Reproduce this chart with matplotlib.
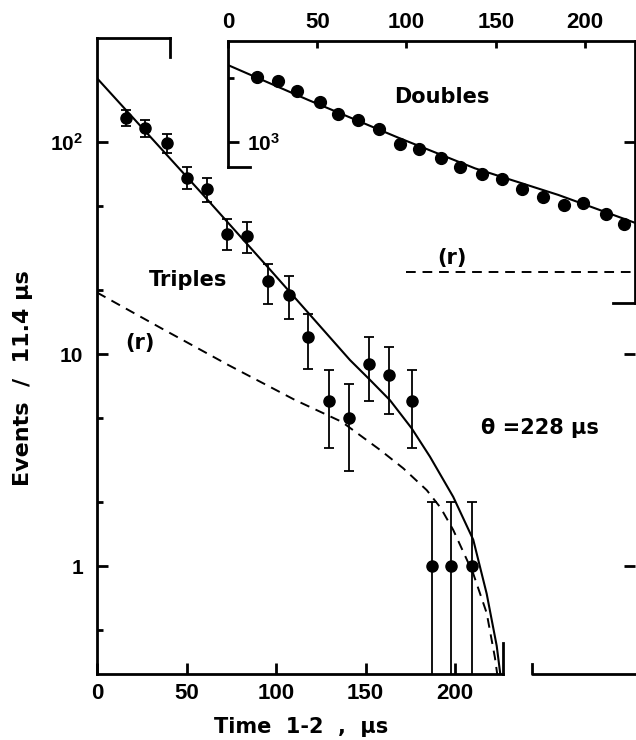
import matplotlib
matplotlib.use('Agg')
import matplotlib.pyplot as plt
import matplotlib.transforms as mtransforms
from matplotlib.ticker import NullFormatter

plt.rcParams['font.family'] = ['DejaVu Sans']
plt.rcParams['font.weight'] = 'bold'
plt.rcParams['mathtext.fontset'] = 'custom'
plt.rcParams['mathtext.rm'] = 'Liberation Sans:bold'
plt.rcParams['mathtext.it'] = 'Liberation Sans:bold:italic'
plt.rcParams['mathtext.bf'] = 'Liberation Sans:bold'

# Triples: events per 11.4 us bin, with Poisson errors
t_trip = [16, 27, 39, 50, 61.5, 72.5, 84, 95.5, 107, 118, 129.5, 141, 152, 163, 176, 187, 198, 209.5]
n_trip = [130, 116, 99, 68, 60, 37, 36, 22, 19, 12, 6, 5, 9, 8, 6, 1, 1, 1]
err_trip = [11.4, 10.8, 9.9, 8.2, 7.7, 6.1, 6.0, 4.7, 4.4, 3.5, 2.4, 2.2, 3.0, 2.8, 2.4, 1.0, 1.0, 1.0]

# triples fit (solid) and random background (r, dashed)
t_fit3 = [0, 58.5, 97.6, 141.3, 152.5, 163.7, 175.8, 186, 199, 210.2, 217.7, 223.3, 225.5]
v_fit3 = [200, 57.3, 24.5, 9.37, 7.55, 6.05, 4.46, 3.28, 2.12, 1.33, 0.74, 0.42, 0.30]
t_bg3 = [0, 36.1, 73.4, 110.6, 136.7, 158.1, 171.1, 184.2, 192, 199, 210.2, 217.7, 222.3, 223.8]
v_bg3 = [19.5, 13.2, 8.87, 6.07, 4.79, 3.53, 2.89, 2.28, 1.88, 1.48, 0.92, 0.60, 0.37, 0.30]

# Doubles (inset)
t_dbl = [16.4, 27.8, 38.8, 51.5, 61.8, 73, 84.8, 96.4, 107.2, 119.3, 130, 142.1, 153.3,
         164.5, 176.6, 188.2, 198.7, 211.8, 221.8]
n_dbl = [2032, 1946, 1740, 1551, 1351, 1271, 1152, 979, 925, 838, 765, 705, 669,
         598, 552, 504, 517, 456, 409]
t_fit2 = [0, 45, 95.4, 138.4, 185, 228.6]
v_fit2 = [2306, 1578, 1048, 751, 563, 414]
t_bg2 = [100, 228]
v_bg2 = [244, 244]

x_ticks = [0, 50, 100, 150, 200]

W, H = 636, 740
fig = plt.figure(figsize=(W / 100, H / 100), dpi=100)

# ---- main axes (triples) ----
ax = fig.add_axes([97 / W, 66 / H, 538 / W, 636 / H])
ax.set_yscale('log')
ax.set_xlim(0, 538 / 1.79)
ax.set_ylim(10 ** -0.5094, 10 ** 2.4906)

ax.errorbar(t_trip, n_trip, yerr=err_trip, fmt='o', color='black', ms=8,
            elinewidth=1.3, capsize=3.5, capthick=1.3, zorder=3)
ax.plot(t_fit3, v_fit3, color='black', lw=1.5)
ax.plot(t_bg3, v_bg3, color='black', lw=1.4, ls=(0, (5, 3.5)))

for s in ax.spines.values():
    s.set_linewidth(2)
ax.spines['right'].set_visible(False)
ax.spines['top'].set_bounds(0, 40.8)
ax.spines['bottom'].set_bounds(0, 226.8)

trans = mtransforms.blended_transform_factory(ax.transData, ax.transAxes)
ax.plot([40.8, 40.8], [1, 1 - 19 / 636], transform=trans, clip_on=False, color='black', lw=2)
ax.plot([226.8, 226.8], [0, 31 / 636], transform=trans, clip_on=False, color='black', lw=2)
ax.plot([243, 243, 300.6], [10 / 636, 0, 0], transform=trans, clip_on=False, color='black', lw=2)

ax.set_xticks(x_ticks)
ax.set_yticks([1, 10, 100], labels=['1', '10', '$10^2$'])
ax.set_yticks([0.5, 2, 5, 20, 50, 200], minor=True)
ax.yaxis.set_minor_formatter(NullFormatter())
ax.tick_params(axis='both', which='both', direction='in', width=2)
ax.tick_params(axis='both', which='major', length=8)
ax.tick_params(axis='both', which='minor', length=4.5)
ax.tick_params(axis='x', top=False, pad=6.5)
ax.tick_params(axis='y', left=True, right=True, pad=10)
ax.yaxis.get_minor_ticks()[-1].tick1line.set_visible(False)
for lab in ax.get_xticklabels():
    lab.set_fontfamily('Liberation Sans')
    lab.set_fontsize(16)
for lab in ax.get_yticklabels():
    lab.set_fontfamily('Liberation Sans')
    lab.set_fontsize(15)

ax.text(50.8, 22.3, 'Triples', ha='center', va='center', fontsize=15)
ax.text(24, 11.3, '(r)', ha='center', va='center', fontsize=15)
ax.text(247.5, 4.5, 'θ =228 µs', ha='center', va='center', fontsize=15)

fig.text(23 / W, 1 - 378 / H, 'Events  /  11.4 µs', rotation=90,
         ha='center', va='center', fontsize=16)
fig.text(301 / W, 1 - 727 / H, 'Time  1-2  ,  µs', ha='center', va='center', fontsize=15)

# ---- inset (doubles) ----
ax2 = fig.add_axes([228 / W, (H - 303) / H, 407 / W, 262 / H])
ax2.patch.set_visible(False)
ax2.set_yscale('log')
ax2.set_xlim(0, 407 / 1.785)
ax2.set_ylim(10 ** 2.2406, 10 ** 3.4764)

ax2.plot(t_dbl, n_dbl, 'o', color='black', ms=8.5, zorder=3)
ax2.plot(t_fit2, v_fit2, color='black', lw=1.5)
ax2.plot(t_bg2, v_bg2, color='black', lw=1.4, ls=(0, (5, 3.5)))

for s in ax2.spines.values():
    s.set_linewidth(2)
ax2.spines['left'].set_bounds(762, 10 ** 3.4764)
ax2.spines['bottom'].set_bounds(215.7, 228)
ax2.plot([0, 12.3], [762, 762], clip_on=False, color='black', lw=2)

ax2.xaxis.tick_top()
ax2.set_xticks(x_ticks)
ax2.tick_params(axis='x', direction='in', length=5, width=2, pad=5.5, bottom=False)
for lab in ax2.get_xticklabels():
    lab.set_fontfamily('Liberation Sans')
    lab.set_fontsize(16)

ax2.set_yticks([1000], labels=['$10^3$'])
ax2.set_yticks([2000], minor=True)
ax2.yaxis.set_minor_formatter(NullFormatter())
ax2.tick_params(axis='y', which='both', direction='in', width=2, left=True, right=False, pad=-13.5)
ax2.tick_params(axis='y', which='major', length=8)
ax2.tick_params(axis='y', which='minor', length=4.5)
for lab in ax2.get_yticklabels():
    lab.set_horizontalalignment('left')
    lab.set_fontsize(15)

ax2.text(119.7, 1637, 'Doubles', ha='center', va='center', fontsize=15)
ax2.text(125.5, 284, '(r)', ha='center', va='center', fontsize=15)

fig.savefig('out.png', dpi=100)
